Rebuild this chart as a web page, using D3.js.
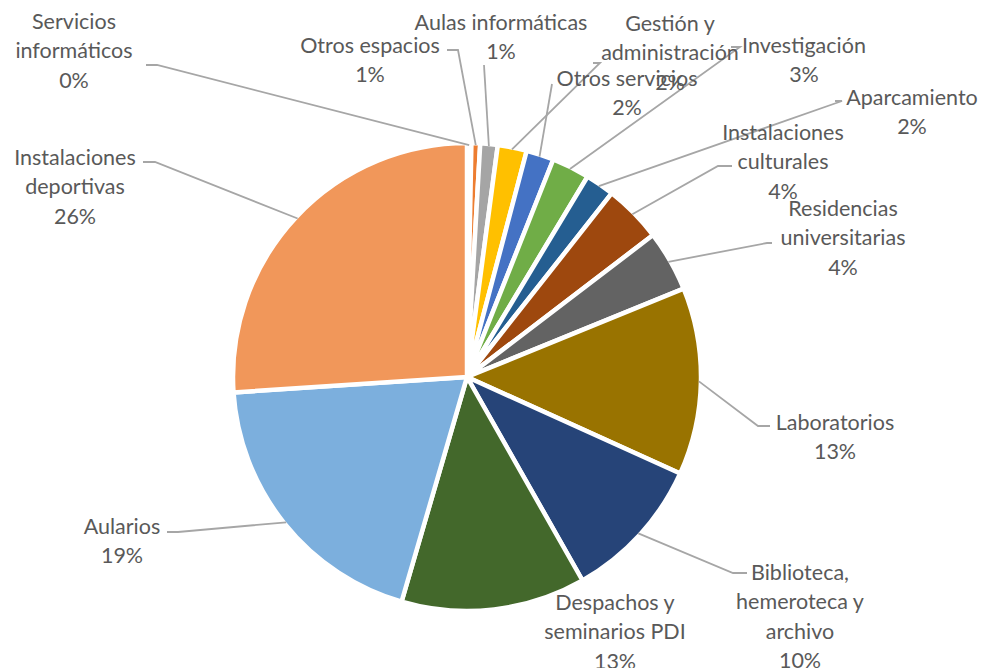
<!DOCTYPE html>
<html>
<head>
<meta charset="utf-8">
<script src="https://cdn.jsdelivr.net/npm/d3@7"></script>
<style>
  html, body { margin: 0; padding: 0; background: #ffffff; }
  svg { display: block; }
  text { font-family: Lato, "Open Sans", sans-serif; fill: #595959; }
</style>
</head>
<body>
<svg id="chart" width="983" height="668"></svg>
<script>
// ---- Data (clockwise from 12 o'clock) ----
const categories = [
  "Servicios informáticos",
  "Otros espacios",
  "Aulas informáticas",
  "Gestión y administración",
  "Otros servicios",
  "Investigación",
  "Aparcamiento",
  "Instalaciones culturales",
  "Residencias universitarias",
  "Laboratorios",
  "Biblioteca, hemeroteca y archivo",
  "Despachos y seminarios PDI",
  "Aularios",
  "Instalaciones deportivas"
];
const values = [0.3, 0.6, 1.2, 2.0, 1.9, 2.6, 2.0, 4.0, 4.2, 12.9, 10.0, 12.7, 19.4, 26.0];
// label text split into lines as in the original
const labelLines = [
  ["Servicios", "informáticos"],
  ["Otros espacios"],
  ["Aulas informáticas"],
  ["Gestión y", "administración"],
  ["Otros servicios"],
  ["Investigación"],
  ["Aparcamiento"],
  ["Instalaciones", "culturales"],
  ["Residencias", "universitarias"],
  ["Laboratorios"],
  ["Biblioteca,", "hemeroteca y", "archivo"],
  ["Despachos y", "seminarios PDI"],
  ["Aularios"],
  ["Instalaciones", "deportivas"]
];
const colors = [
  "#5B9BD5", "#ED7D31", "#A5A5A5", "#FFC000", "#4472C4", "#70AD47", "#255E91",
  "#9E480E", "#636363", "#997300", "#264478", "#43682B", "#7CAFDD", "#F1975A"
];

// ---- Layout ----
const cx = 467, cy = 377, R = 234;
const lineH = 29.5;
// label block centre x, first-line centre y
const labelPos = [
  [74, 21], [370, 45], [501, 22], [670, 23], [627, 78], [804, 45], [912, 97],
  [783, 132], [843, 208], [835, 422], [800, 572], [615, 602], [122, 526], [75, 157]
];
// leader line start (label side) points, null = no leader
const leaderStart = [
  [[146, 65], [157, 65]],
  [[447, 50], [458, 50]],
  [[484, 65]],
  [[593, 63], [600, 63]],
  [[552, 84]],
  [[731, 47], [740, 47]],
  [[835, 101], [842, 101]],
  [[732, 166], [718, 166]],
  [[772, 243], [767, 243]],
  [[770, 426], [758, 426]],
  [[747, 573], [733, 573]],
  null,
  [[167, 532], [178, 532]],
  [[143, 162], [155, 162]]
];

const svg = d3.select("#chart");
const g = svg.append("g").attr("transform", `translate(${cx},${cy})`);

const data = categories.map((c, i) => ({ name: c, value: values[i], i }));
const total = d3.sum(values);
const pie = d3.pie().sort(null).value(d => d.value).startAngle(0).endAngle(2 * Math.PI);
const arcs = pie(data);
const arc = d3.arc().innerRadius(0).outerRadius(R);
const edge = d3.arc().innerRadius(R - 2).outerRadius(R - 2);

g.selectAll("path.slice")
  .data(arcs)
  .join("path")
  .attr("class", "slice")
  .attr("d", arc)
  .attr("fill", d => colors[d.data.i])
  .attr("stroke", "#ffffff")
  .attr("stroke-width", 4.5)
  .attr("stroke-linejoin", "round");

// leader lines
const lineGen = d3.line();
arcs.forEach(d => {
  const st = leaderStart[d.data.i];
  if (!st) return;
  const [ex, ey] = edge.centroid(d);
  const pts = st.map(p => [p[0], p[1]]);
  pts.push([ex + cx, ey + cy]);
  svg.append("path")
    .attr("d", lineGen(pts))
    .attr("fill", "none")
    .attr("stroke", "#A6A6A6")
    .attr("stroke-width", 1.8);
});

// labels
arcs.forEach(d => {
  const i = d.data.i;
  const pct = Math.round(d.data.value / total * 100) + "%";
  const lines = labelLines[i].concat([pct]);
  const [lx, ly] = labelPos[i];
  const t = svg.append("text")
    .attr("text-anchor", "middle")
    .attr("font-size", 21.5);
  lines.forEach((ln, k) => {
    t.append("tspan")
      .attr("x", lx)
      .attr("y", ly + k * lineH)
      .attr("dy", "0.36em")
      .text(ln);
  });
});
</script>
</body>
</html>
